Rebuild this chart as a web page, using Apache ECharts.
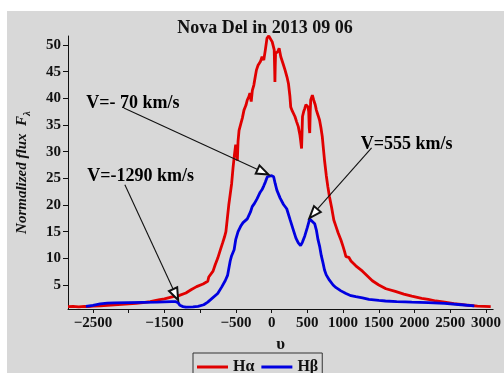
<!DOCTYPE html>
<html>
<head>
<meta charset="utf-8">
<script src="https://cdn.jsdelivr.net/npm/echarts@6/dist/echarts.min.js"></script>
<style>
  html, body { margin: 0; padding: 0; background: #ffffff; }
  #chart { width: 504px; height: 373px; }
</style>
</head>
<body>
<div id="chart"></div>
<script>
// Velocity grid (km/s) and normalized flux of the H-alpha profile
const haVelocity = [
  -2850, -2780, -2700, -2620, -2560, -2500, -2400, -2300, -2200, -2100, -2000, -1900, -1800, -1700,
  -1584, -1500, -1446, -1380, -1300, -1200, -1128, -1050, -960, -894, -880, -860, -820, -790,
  -755, -720, -686, -660, -640, -620, -600, -580, -560, -540, -520, -503, -490, -480, -470,
  -456, -430, -410, -387, -360, -341, -320, -304, -286, -270, -249, -230, -213, -190, -157,
  -134, -110, -88, -65, -40, -19, 8, 36, 43, 46, 50, 55, 87, 105, 128, 160, 188, 215, 235,
  255, 267, 290, 326, 350, 373, 395, 405, 419, 432, 450, 464, 480, 497, 510, 519, 526, 533,
  540, 547, 570, 588, 610, 626, 650, 671, 690, 709, 725, 740, 765, 787, 810, 840, 870, 900,
  930, 971, 1000, 1020, 1040, 1060, 1080, 1110, 1178, 1271, 1409, 1500, 1600, 1731, 1850,
  1961, 2100, 2191, 2300, 2421, 2550, 2652, 2750, 2881, 2980, 3066
];
const haFlux = [
  0.95, 1.0, 0.9, 1.0, 0.95, 1.05, 1.1, 1.2, 1.3, 1.35, 1.45, 1.55, 1.7, 1.9,
  2.2, 2.4, 2.6, 2.8, 3.0, 3.5, 4.1, 4.7, 5.2, 5.7, 6.5, 6.6, 7.6, 8.8,
  10.0, 11.5, 12.9, 14.0, 15.0, 17.5, 20.0, 22.0, 24.0, 27.0, 29.5, 31.3, 30.5, 28.3, 32.0,
  34.0, 35.3, 36.3, 37.8, 38.7, 39.7, 40.3, 41.0, 39.4, 41.5, 42.5, 44.0, 45.3, 46.2, 46.9,
  47.8, 47.2, 49.1, 51.3, 51.7, 51.5, 50.6, 49.1, 45.0, 43.1, 46.0, 48.4, 48.8, 49.4, 47.8, 46.5, 45.3, 44.0, 42.8,
  40.5, 38.4, 37.6, 36.6, 35.6, 34.7, 33.2, 32.2, 30.6, 36.6, 37.6, 38.1, 38.8, 39.1, 38.4, 37.5, 34.5, 33.5,
  37.5, 39.7, 40.6, 39.7, 38.8, 37.8, 36.8, 35.9, 34.5, 32.8, 30.5, 28.4, 25.5, 23.4, 21.5, 19.5, 17.2, 16.0,
  14.8, 13.4, 12.2, 11.3, 10.3, 10.0, 10.2, 9.5, 8.6, 7.6, 5.8, 5.0, 4.3, 3.8, 3.3,
  2.9, 2.5, 2.3, 2.0, 1.8, 1.5, 1.35, 1.2, 1.05, 1.0, 0.95
];

// Velocity grid (km/s) and normalized flux of the H-beta profile
const hbVelocity = [
  -2600, -2500, -2400, -2300, -2200, -2000, -1800, -1600, -1500, -1400, -1350, -1310, -1285,
  -1240, -1200, -1100, -1030, -950, -894, -850, -755, -700, -650, -617, -580, -560, -525,
  -503, -470, -434, -400, -387, -341, -296, -272, -240, -203, -160, -134, -110, -88, -60,
  -40, 0, 28, 50, 73, 119, 166, 211, 257, 304, 340, 373, 405, 430, 464, 500, 533, 560,
  602, 626, 649, 671, 695, 718, 740, 764, 809, 860, 902, 970, 1040, 1110, 1178, 1271,
  1362, 1500, 1593, 1750, 1868, 1961, 2191, 2421, 2652, 2836
];
const hbFlux = [
  1.0, 1.2, 1.45, 1.6, 1.65, 1.7, 1.75, 1.8, 1.85, 1.9, 1.9, 1.7, 1.2,
  0.95, 0.85, 0.9, 1.0, 1.3, 1.8, 2.3, 3.4, 4.6, 5.8, 6.8, 9.5, 10.5, 11.6,
  13.5, 15.0, 16.0, 16.7, 16.8, 17.4, 18.7, 19.7, 20.3, 21.2, 22.4, 22.9, 23.6, 24.3, 25.3,
  25.6, 25.5, 25.3, 24.0, 22.8, 21.3, 20.1, 19.3, 17.3, 15.3, 13.8, 12.9, 12.4, 13.0, 14.2, 15.8, 17.4, 17.6,
  16.5, 15.3, 13.5, 12.3, 10.5, 9.2, 7.8, 6.9, 5.9, 5.0, 4.5, 3.9, 3.4, 3.0, 2.8, 2.6,
  2.3, 2.1, 2.0, 1.9, 1.85, 1.8, 1.7, 1.55, 1.3, 1.1
];

// Axis ticks and labels
const xTicks = [-2500, -2000, -1500, -1000, -500, 0, 500, 1000, 1500, 2000, 2500, 3000];
const xTickLabels = [-2500, -1500, -500, 0, 500, 1000, 1500, 2000, 2500, 3000];
const yTicks = [5, 10, 15, 20, 25, 30, 35, 40, 45, 50];

// Velocity annotations: text anchor and arrow (start -> head) in data units
const noteTexts = ['V=- 70 km/s', 'V=-1290 km/s', 'V=555 km/s'];
const noteAnchors = [[-2593, 39.1], [-2579, 25.3], [1246, 31.4]];
const arrowStarts = [[-2068, 38.2], [-2054, 23.8], [1399, 30.7]];
const arrowHeads = [[-120, 26.2], [-1344, 3.2], [584, 18.4]];

const serif = 'Liberation Serif';

const zip = (xs, ys) => xs.map((x, i) => [x, ys[i]]);
const fmtX = v => (v < 0 ? '\u2212' + Math.abs(v) : String(v));

const chart = echarts.init(document.getElementById('chart'), null, { renderer: 'canvas' });

chart.setOption({
  animation: false,
  backgroundColor: '#ffffff',
  graphic: [{
    type: 'rect',
    z: -10,
    silent: true,
    shape: { x: 7, y: 11, width: 497, height: 362 },
    style: { fill: '#d8d8d8' }
  }],
  title: {
    text: 'Nova Del in 2013 09 06',
    left: 260,
    textAlign: 'center',
    top: 14,
    textStyle: { fontFamily: serif, fontWeight: 'bold', fontSize: 18, color: '#111' }
  },
  grid: { left: 68, right: 5, top: 36, bottom: 64 },
  legend: {
    data: ['H\u03b1', 'H\u03b2'],
    left: 193,
    top: 353,
    icon: 'rect',
    itemWidth: 31,
    itemHeight: 3,
    itemGap: 7,
    padding: [6, 4, 6, 4],
    borderColor: '#333',
    borderWidth: 1,
    textStyle: { fontFamily: serif, fontWeight: 'bold', fontSize: 16, color: '#111' }
  },
  xAxis: {
    type: 'value',
    min: -2850,
    max: 3100,
    name: '\u03c5',
    nameLocation: 'middle',
    nameGap: 22,
    nameTextStyle: { fontFamily: serif, fontWeight: 'bold', fontSize: 17, color: '#111' },
    splitLine: { show: false },
    axisLine: { onZero: false, lineStyle: { color: '#111', width: 1 } },
    axisTick: { show: true, length: 4, customValues: xTicks, lineStyle: { color: '#111' } },
    axisLabel: {
      customValues: xTickLabels,
      formatter: fmtX,
      margin: 7,
      fontFamily: serif, fontWeight: 'bold', fontSize: 15, color: '#111'
    }
  },
  yAxis: {
    type: 'value',
    min: 0.5,
    max: 51.7,
    name: 'Normalized flux  {f|F}{s|\u03bb}',
    nameLocation: 'middle',
    nameGap: 35,
    nameRotate: 90,
    nameTextStyle: {
      fontFamily: serif, fontWeight: 'bold', fontStyle: 'italic', fontSize: 15, color: '#111',
      rich: {
        f: { fontFamily: serif, fontWeight: 'bold', fontStyle: 'italic', fontSize: 15, color: '#111' },
        s: { fontFamily: serif, fontWeight: 'bold', fontStyle: 'italic', fontSize: 11, color: '#111', padding: [10, 0, 0, 0] }
      }
    },
    splitLine: { show: false },
    axisLine: { show: true, onZero: false, lineStyle: { color: '#111', width: 1 } },
    axisTick: { show: true, length: 5, customValues: yTicks, lineStyle: { color: '#111' } },
    axisLabel: {
      customValues: yTicks,
      margin: 7,
      fontFamily: serif, fontWeight: 'bold', fontSize: 15, color: '#111'
    }
  },
  series: [
    {
      name: 'H\u03b1',
      type: 'line',
      data: zip(haVelocity, haFlux),
      symbol: 'none',
      color: '#e00000',
      lineStyle: { color: '#e00000', width: 2.8 },
      z: 3
    },
    {
      name: 'H\u03b2',
      type: 'line',
      data: zip(hbVelocity, hbFlux),
      symbol: 'none',
      color: '#0000e0',
      lineStyle: { color: '#0000e0', width: 2.8 },
      z: 4
    },
    {
      name: 'notes',
      type: 'scatter',
      data: noteAnchors.map((p, i) => ({ value: p, name: noteTexts[i] })),
      symbolSize: 0,
      silent: true,
      z: 6,
      itemStyle: { opacity: 1 },
      label: {
        show: true,
        position: 'right',
        distance: 0,
        opacity: 1,
        formatter: p => p.name,
        fontFamily: serif, fontWeight: 'bold', fontSize: 18, color: '#000'
      },
      markLine: {
        silent: true,
        animation: false,
        symbol: ['none', 'emptyTriangle'],
        symbolSize: [9, 12],
        label: { show: false },
        lineStyle: { color: '#111', width: 1.1, type: 'solid', opacity: 1 },
        emphasis: { disabled: true },
        data: arrowStarts.map((s, i) => [{ coord: s }, { coord: arrowHeads[i] }])
      }
    }
  ]
});
</script>
</body>
</html>
